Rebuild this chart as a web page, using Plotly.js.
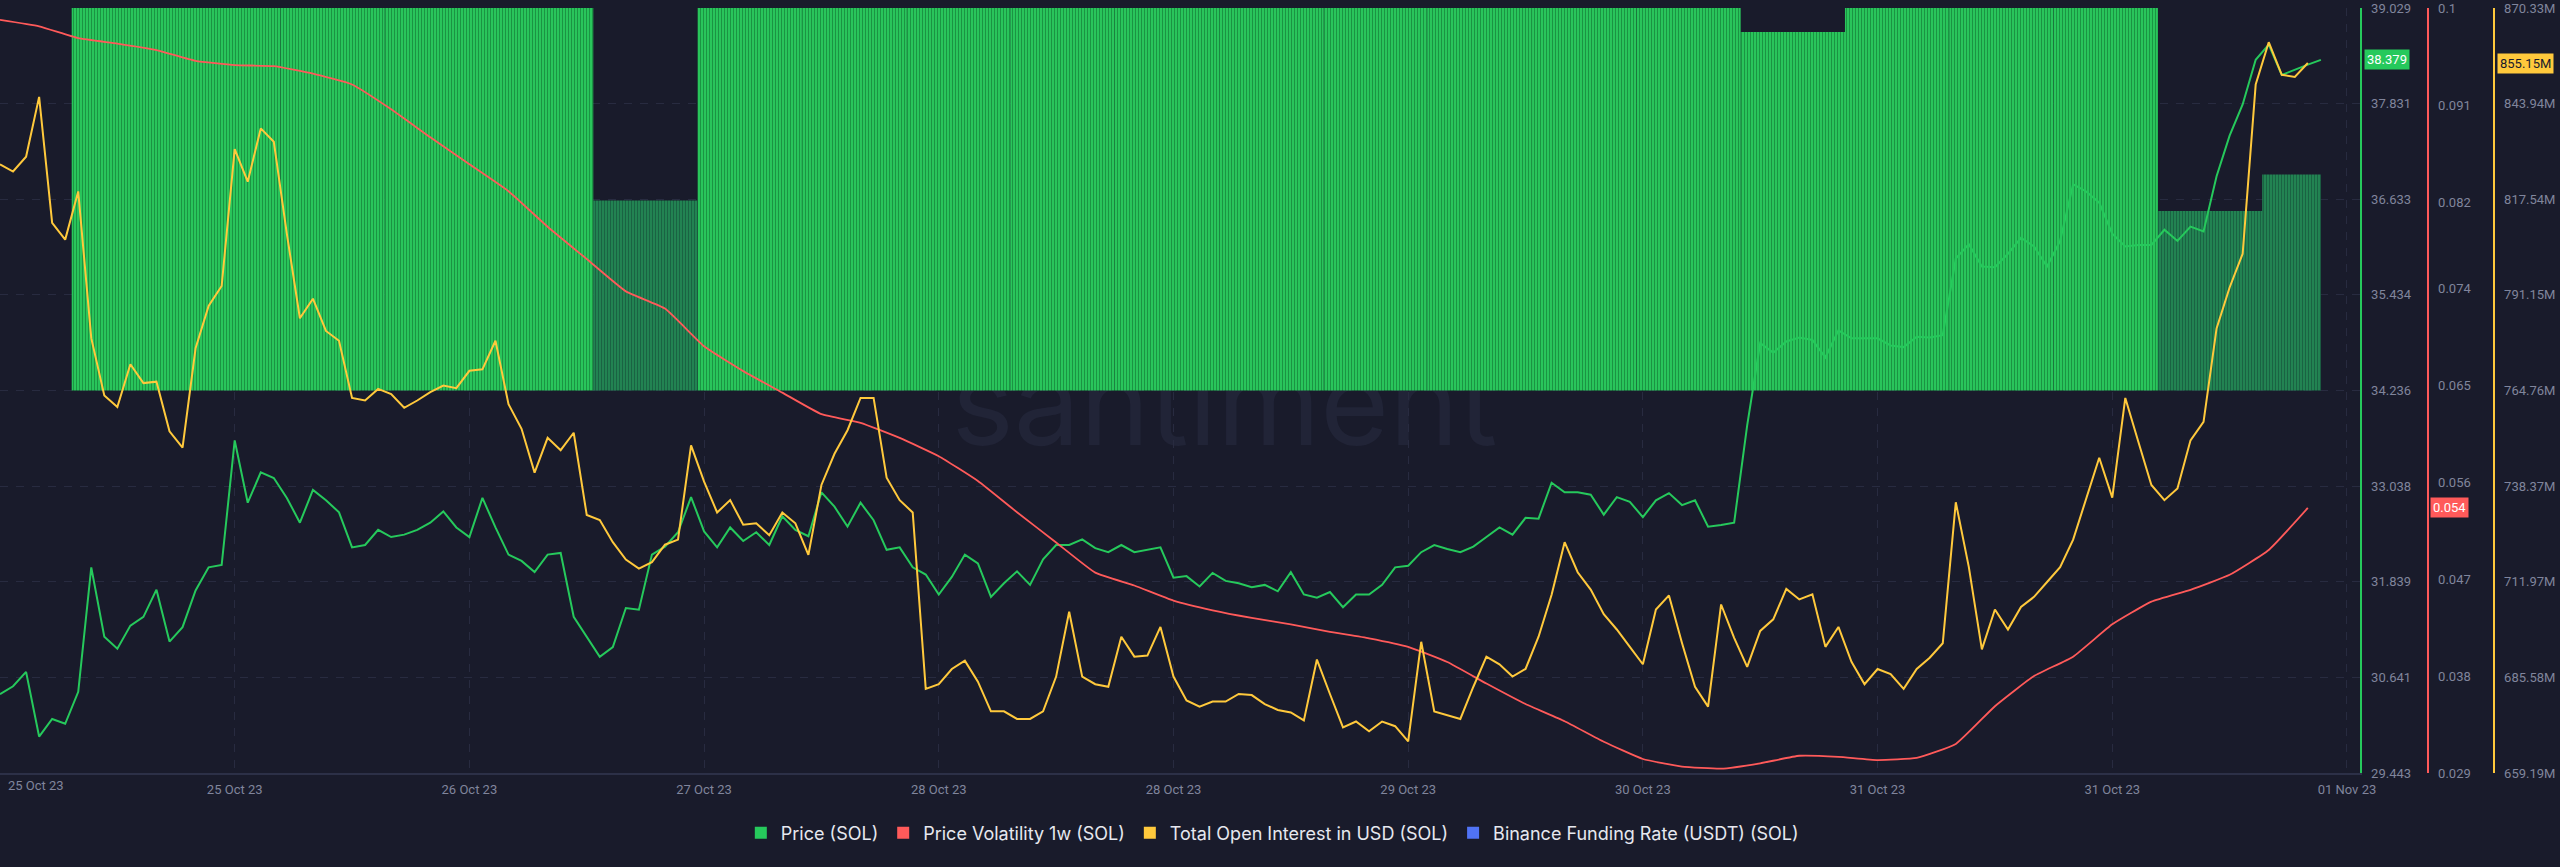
<!DOCTYPE html>
<html><head><meta charset="utf-8">
<script src="https://cdn.plot.ly/plotly-3.0.1.min.js"></script>
<style>html,body{margin:0;padding:0;background:#191b2b;}#chart{width:2560px;height:867px;}</style>
</head><body><div id="chart"></div>
<script>
// ---- data ----
const START = '2023-10-25T02:30:00'; // first hourly sample
const price = [30.43,30.53,30.71,29.90,30.12,30.06,30.46,32.02,31.15,31.00,
 31.29,31.40,31.74,31.09,31.27,31.73,32.02,32.05,33.61,32.83,
 33.21,33.14,32.89,32.58,32.99,32.86,32.71,32.27,32.30,32.49,
 32.40,32.43,32.49,32.58,32.72,32.52,32.40,32.89,32.52,32.18,
 32.10,31.96,32.18,32.20,31.40,31.15,30.90,31.02,31.51,31.49,
 32.18,32.28,32.46,32.90,32.47,32.27,32.52,32.35,32.46,32.30,
 32.66,32.49,32.41,32.96,32.78,32.53,32.83,32.61,32.24,32.27,
 32.02,31.93,31.68,31.90,32.18,32.07,31.65,31.82,31.97,31.80,
 32.12,32.30,32.30,32.37,32.26,32.21,32.30,32.21,32.24,32.27,
 31.89,31.91,31.78,31.95,31.85,31.82,31.77,31.80,31.72,31.96,
 31.68,31.64,31.71,31.52,31.68,31.68,31.80,32.02,32.04,32.21,
 32.30,32.25,32.21,32.28,32.40,32.52,32.43,32.64,32.63,33.08,
 32.96,32.96,32.93,32.68,32.90,32.84,32.65,32.86,32.95,32.80,
 32.86,32.53,32.55,32.58,33.80,34.83,34.71,34.85,34.90,34.87,
 34.65,34.99,34.89,34.89,34.89,34.80,34.78,34.91,34.90,34.93,
 35.89,36.07,35.79,35.78,35.95,36.15,36.04,35.79,36.11,36.82,
 36.73,36.59,36.20,36.04,36.06,36.06,36.25,36.11,36.29,36.23,
 36.92,37.43,37.82,38.38,38.57,38.19,38.26,38.32,38.379];
// Total open interest, millions USD, hourly
const openInterest = [827.2,825.2,829.3,845.8,811.0,806.4,819.7,779.2,763.4,760.2,
 772.0,766.8,767.2,753.5,749.0,776.4,788.1,793.6,831.4,822.4,
 837.1,833.4,808.0,784.7,790.1,781.2,778.5,762.7,762.0,765.2,
 763.8,760.0,762.0,764.3,766.1,765.4,770.2,770.6,778.5,761.0,
 754.2,742.1,751.7,748.3,753.1,730.4,729.0,722.9,718.1,715.6,
 717.4,722.2,723.6,749.6,739.6,731.1,734.5,727.7,728.1,724.8,
 731.1,728.1,719.4,738.7,747.3,753.8,762.7,762.7,740.7,734.5,
 731.1,682.4,683.7,687.9,690.2,684.4,676.2,676.2,674.1,674.1,
 676.2,685.8,703.7,685.8,683.7,683.0,696.8,691.3,691.6,699.5,
 685.8,679.2,677.5,678.9,678.9,681.0,680.7,678.2,676.6,675.9,
 673.7,690.5,681.0,671.8,673.4,670.7,673.4,672.1,667.9,695.4,
 676.2,675.1,674.1,683.0,691.3,689.2,685.8,687.9,696.8,708.4,
 722.9,714.6,709.8,703.0,698.8,694.0,689.2,704.3,708.2,695.1,
 683.0,677.5,705.7,696.5,688.5,698.4,701.6,710.0,707.1,708.5,
 694.0,699.5,689.9,683.7,687.9,686.5,682.4,687.9,691.0,695.0,
 733.9,716.0,693.3,704.3,698.8,705.0,707.8,711.9,716.0,723.6,
 735.2,746.2,735.2,762.7,750.6,738.7,734.5,737.7,751.0,756.1,
 781.9,793.2,802.5,849.2,860.9,851.9,851.3,855.15];
// Price volatility 1w, every 3 hours
const volatility = [0.0989,0.0983,0.0972,0.0967,0.0961,0.0951,0.0947,0.0946,0.0939,0.0929,
 0.0906,0.0880,0.0855,0.0830,0.0797,0.0767,0.0737,0.0721,0.0686,0.0663,
 0.0643,0.0623,0.0615,0.0601,0.0584,0.0561,0.0532,0.0504,0.0476,0.0464,
 0.0450,0.0441,0.0434,0.0428,0.0421,0.0415,0.0407,0.0393,0.0373,0.0354,
 0.0338,0.0319,0.0303,0.0296,0.0294,0.0299,0.0306,0.0305,0.0302,0.0304,
 0.0317,0.0352,0.0380,0.0398,0.0428,0.0449,0.0460,0.0474,0.0497,0.0536];
// Binance funding rate (%), one value per 8h funding period
const fundingStarts = ['2023-10-25 08:00','2023-10-25 16:00','2023-10-26 00:00','2023-10-26 08:00',
 '2023-10-26 16:00','2023-10-27 00:00','2023-10-27 08:00','2023-10-27 16:00','2023-10-28 00:00',
 '2023-10-28 08:00','2023-10-28 16:00','2023-10-29 00:00','2023-10-29 08:00','2023-10-29 16:00',
 '2023-10-30 00:00','2023-10-30 08:00','2023-10-30 16:00','2023-10-31 00:00','2023-10-31 08:00',
 '2023-10-31 16:00','2023-11-01 00:00','2023-11-01 08:00'];
const fundingRate = [0.0100,0.0100,0.0100,0.0100,0.0100,0.00497,0.0100,0.0100,0.0100,
 0.0100,0.0100,0.0100,0.0100,0.0100,0.0100,0.0100,0.00937,0.0100,0.0100,0.0100,0.00469,0.00565];
const xTickLabels = ['25 Oct 23','25 Oct 23','26 Oct 23','27 Oct 23','28 Oct 23','28 Oct 23',
 '29 Oct 23','30 Oct 23','31 Oct 23','31 Oct 23','01 Nov 23'];
const priceTicks = [29.443,30.641,31.839,33.038,34.236,35.434,36.633,37.831,39.029];
const volTicks = [0.029,0.038,0.047,0.056,0.065,0.074,0.082,0.091,0.1];
const oiTicks = [659.19,685.58,711.97,738.37,764.76,791.15,817.54,843.94,870.33];

// ---- styling / helpers ----
const C = {bg:'#191b2b', green:'#26c95c', red:'#ff5a5a', yellow:'#ffc93c', blue:'#5073f5',
  tick:'#80859c', grid:'#282b40', legend:'#e6e8ef'};
const H = 3600e3;
const t0 = Date.parse(START + 'Z');
const fmt = ms => new Date(ms).toISOString().slice(0,19).replace('T',' ');
const priceX = price.map((_, i) => fmt(t0 + i*H));
const oiX = openInterest.map((_, i) => fmt(t0 + i*H));
const volX = volatility.map((_, i) => fmt(t0 + i*3*H));
const tickX = xTickLabels.map((_, i) => fmt(t0 + i*18*H));
const fundMs = fundingStarts.map(s => Date.parse(s.replace(' ','T') + ':00Z'));
const dataEnd = t0 + (price.length-1)*H;
const fundWidth = fundMs.map((m,i) => (i < fundMs.length-1 ? fundMs[i+1] : dataEnd) - m);

// split funding bars into full-rate and reduced-rate groups (different shades)
function fundingTrace(keep, bg, fg) {
  const idx = fundingRate.map((v,i) => i).filter(i => keep(fundingRate[i]));
  return {type:'bar', x:idx.map(i => fundingStarts[i]), y:idx.map(i => fundingRate[i]),
    width:idx.map(i => fundWidth[i]), offset:0, xaxis:'x', yaxis:'y',
    marker:{color:bg, line:{width:0},
      pattern:{shape:'|', size:3, solidity:0.45, fgcolor:fg, bgcolor:bg, fgopacity:1, fillmode:'replace'}},
    showlegend:false, hoverinfo:'skip'};
}

const tickFont = {family:'Roboto, sans-serif', size:13, color:C.tick};

const traces = [
  fundingTrace(v => v >= 0.009, '#2ccf60', '#1b9443'),
  fundingTrace(v => v < 0.009, '#238a55', '#1a6343'),
  {type:'scatter', mode:'lines', x:priceX, y:price, yaxis:'y2', line:{color:C.green, width:2},
   showlegend:false, hoverinfo:'skip'},
  {type:'scatter', mode:'lines', x:volX, y:volatility, yaxis:'y3', line:{color:C.red, width:1.8, shape:'spline', smoothing:0.4},
   showlegend:false, hoverinfo:'skip'},
  {type:'scatter', mode:'lines', x:oiX, y:openInterest, yaxis:'y4', line:{color:C.yellow, width:2},
   showlegend:false, hoverinfo:'skip'},
  // legend entries (square swatches)
  {type:'bar', x:[null], y:[null], name:'Price (SOL)', marker:{color:C.green}, yaxis:'y', hoverinfo:'skip'},
  {type:'bar', x:[null], y:[null], name:'Price Volatility 1w (SOL)', marker:{color:C.red}, yaxis:'y', hoverinfo:'skip'},
  {type:'bar', x:[null], y:[null], name:'Total Open Interest in USD (SOL)', marker:{color:C.yellow}, yaxis:'y', hoverinfo:'skip'},
  {type:'bar', x:[null], y:[null], name:'Binance Funding Rate (USDT) (SOL)', marker:{color:C.blue}, yaxis:'y', hoverinfo:'skip'}
];

const W = 2560;
const rightAxis = (extra) => Object.assign({
  overlaying:'y', side:'right', ticks:'', ticklabelstandoff:7, tickfont:tickFont,
  showgrid:false, zeroline:false, showline:true, linewidth:1.5, fixedrange:true, tickmode:'array'
}, extra);

const layout = {
  width:W, height:867,
  margin:{l:0, r:0, t:8, b:94, autoexpand:false},
  paper_bgcolor:C.bg, plot_bgcolor:'rgba(0,0,0,0)',
  barmode:'overlay', showlegend:true, hovermode:false,
  font:{family:'Inter, Roboto, sans-serif', color:C.tick},
  xaxis:{type:'date', domain:[0, 2360/W], range:[fmt(t0), fmt(t0 + 181*H)], anchor:'y',
    tickmode:'array', tickvals:tickX, ticktext:xTickLabels.map((t,i) => i === 0 ? '' : t),
    showgrid:true, gridcolor:C.grid, griddash:'8px,8px', gridwidth:1,
    showline:true, linecolor:'#2c3047', linewidth:2, ticks:'', ticklabelstandoff:3,
    tickfont:{family:'Roboto, sans-serif', size:13, color:C.tick}, zeroline:false, fixedrange:true},
  yaxis:{visible:false, range:[-0.01, 0.01], fixedrange:true},
  yaxis2:rightAxis({anchor:'x', range:[29.443, 39.029], tickvals:priceTicks,
    ticktext:priceTicks.map(v => v.toFixed(3)), linecolor:C.green,
    showgrid:true, gridcolor:C.grid, griddash:'8px,8px', gridwidth:1}),
  yaxis3:rightAxis({anchor:'free', position:2427/W, range:[0.029, 0.1], tickvals:volTicks,
    ticktext:volTicks.map(v => String(v)), linecolor:C.red}),
  yaxis4:rightAxis({anchor:'free', position:2493/W, range:[659.19, 870.33], tickvals:oiTicks,
    ticktext:oiTicks.map(v => v.toFixed(2) + 'M'), linecolor:C.yellow}),
  legend:{orientation:'h', x:0.497, xanchor:'center', y:-0.0784, yanchor:'middle',
    font:{family:'Inter, sans-serif', size:18, color:C.legend}, bgcolor:'rgba(0,0,0,0)',
    itemclick:false, itemdoubleclick:false},
  shapes:[{type:'rect', xref:'paper', yref:'paper', x0:914/W, x1:1535/W, y0:0.43, y1:0.55,
    line:{width:0}, fillcolor:'rgba(0,0,0,0)', layer:'below',
    label:{text:'santiment', textposition:'middle center',
      font:{family:'Inter, sans-serif', size:118, color:'#212437'}}}],
  annotations:[
    {xref:'x', x:tickX[0], xanchor:'left', xshift:6, yref:'paper', y:0, yanchor:'top', yshift:-3,
     text:xTickLabels[0], showarrow:false, font:{family:'Roboto, sans-serif', size:13, color:C.tick}},
    {xref:'paper', x:2364/W, xanchor:'left', yref:'y2', y:price[price.length-1], yanchor:'middle',
     text:price[price.length-1].toFixed(3), showarrow:false, bgcolor:C.green, borderpad:2,
     font:{family:'Roboto, sans-serif', size:13, color:'#ffffff'}},
    {xref:'paper', x:2430/W, xanchor:'left', yref:'y3', y:volatility[volatility.length-1], yanchor:'middle',
     text:volatility[volatility.length-1].toFixed(3), showarrow:false, bgcolor:C.red, borderpad:2,
     font:{family:'Roboto, sans-serif', size:13, color:'#ffffff'}},
    {xref:'paper', x:2497/W, xanchor:'left', yref:'y4', y:openInterest[openInterest.length-1], yanchor:'middle',
     text:openInterest[openInterest.length-1].toFixed(2) + 'M', showarrow:false, bgcolor:C.yellow, borderpad:2,
     font:{family:'Roboto, sans-serif', size:13, color:'#1a1b2b'}}
  ]
};

Plotly.newPlot('chart', traces, layout, {staticPlot:true, displayModeBar:false});
</script>
</body></html>
